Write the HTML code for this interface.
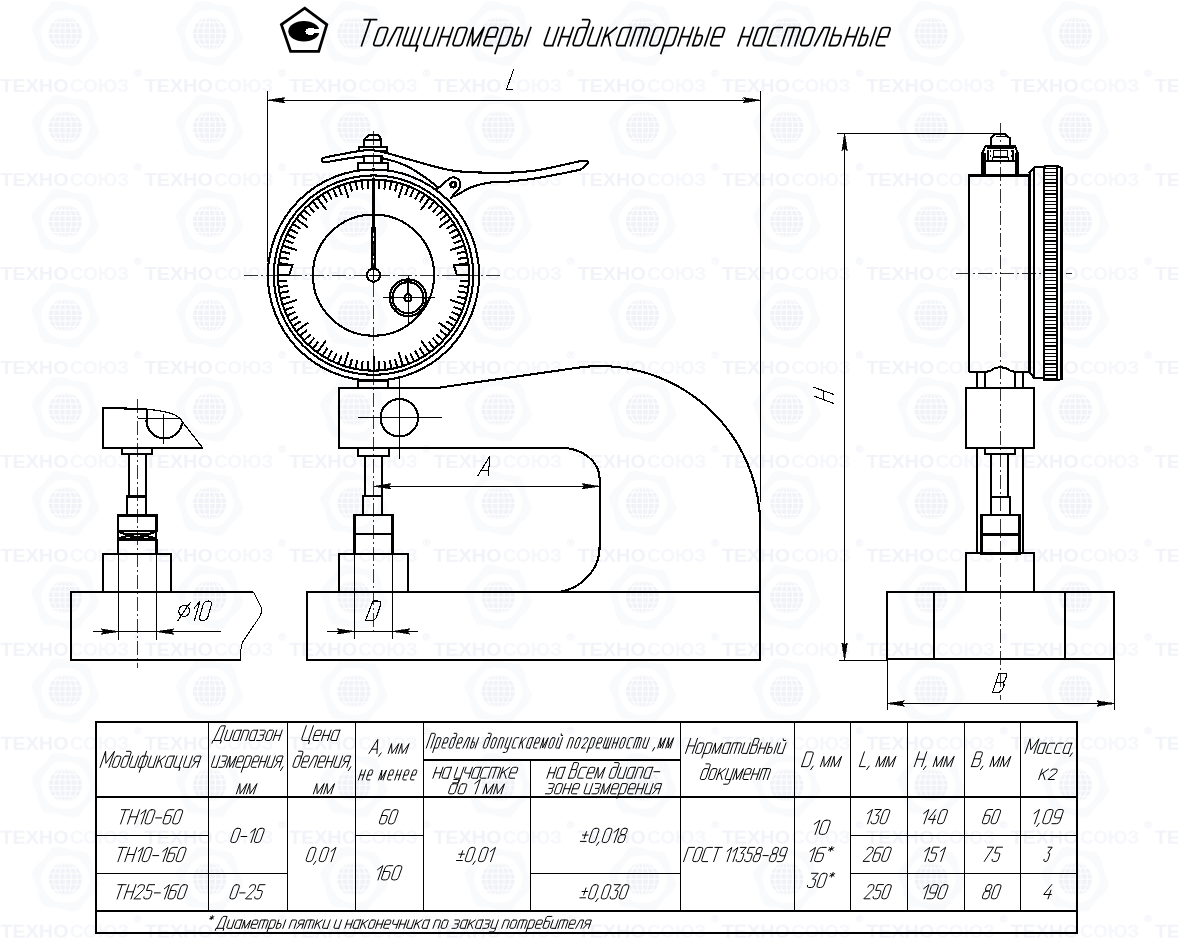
<!DOCTYPE html>
<html><head><meta charset="utf-8"><title>Толщиномеры индикаторные настольные</title>
<style>
html,body{margin:0;padding:0;background:#fff;}
body{width:1178px;height:940px;overflow:hidden;font-family:"Liberation Sans",sans-serif;}
svg{display:block;}
.k{fill:none;stroke:#000;stroke-width:2.1;stroke-linejoin:miter;}
.kk{fill:none;stroke:#000;stroke-width:2.6;}
.t{fill:none;stroke:#000;stroke-width:1;}
.c{fill:none;stroke:#000;stroke-width:0.8;stroke-dasharray:14 3 2 3;}
.lt{fill:none;stroke:#000;stroke-width:1.1;stroke-linecap:round;stroke-linejoin:round;}
.gt{fill:none;stroke:#000;stroke-width:1;stroke-linecap:square;stroke-linejoin:round;shape-rendering:geometricPrecision;}
.af{fill:#000;stroke:#000;stroke-width:0.6;}
.w{fill:#fff;stroke:#000;stroke-width:2.1;}
text{font-family:"Liberation Sans",sans-serif;font-style:italic;fill:#000;stroke:#fff;stroke-width:0.6px;paint-order:fill stroke;}
.wm text{font-style:normal;font-weight:bold;stroke:none;}
</style></head><body>
<svg width="1178" height="940" viewBox="0 0 1178 940">
<defs>
<g id="gl">
<path transform="rotate(10)" d="M-16 -28.5 L16 -30.5 Q26 -22 27 -8 Q20 -21 5 -23.5 Q-8 -25 -21 -16 Q-20 -23 -16 -28.5Z" fill="#f9fafc"/>
<path transform="rotate(70)" d="M-16 -28.5 L16 -30.5 Q26 -22 27 -8 Q20 -21 5 -23.5 Q-8 -25 -21 -16 Q-20 -23 -16 -28.5Z" fill="#f9fafc"/>
<path transform="rotate(130)" d="M-16 -28.5 L16 -30.5 Q26 -22 27 -8 Q20 -21 5 -23.5 Q-8 -25 -21 -16 Q-20 -23 -16 -28.5Z" fill="#f9fafc"/>
<path transform="rotate(190)" d="M-16 -28.5 L16 -30.5 Q26 -22 27 -8 Q20 -21 5 -23.5 Q-8 -25 -21 -16 Q-20 -23 -16 -28.5Z" fill="#f9fafc"/>
<path transform="rotate(250)" d="M-16 -28.5 L16 -30.5 Q26 -22 27 -8 Q20 -21 5 -23.5 Q-8 -25 -21 -16 Q-20 -23 -16 -28.5Z" fill="#f9fafc"/>
<path transform="rotate(310)" d="M-16 -28.5 L16 -30.5 Q26 -22 27 -8 Q20 -21 5 -23.5 Q-8 -25 -21 -16 Q-20 -23 -16 -28.5Z" fill="#f9fafc"/>
<circle r="16.6" fill="#f0f2f7"/>
<path d="M-17 -11H17" stroke="#fff" stroke-width="1.1" fill="none"/>
<path d="M-17 -5.5H17" stroke="#fff" stroke-width="1.1" fill="none"/>
<path d="M-17 0H17" stroke="#fff" stroke-width="1.1" fill="none"/>
<path d="M-17 5.5H17" stroke="#fff" stroke-width="1.1" fill="none"/>
<path d="M-17 11H17" stroke="#fff" stroke-width="1.1" fill="none"/>
<path d="M0 -17V17" stroke="#fff" stroke-width="1.1" fill="none"/>
<ellipse rx="6" ry="16.6" fill="none" stroke="#fff" stroke-width="1.1"/>
<ellipse rx="12" ry="16.6" fill="none" stroke="#fff" stroke-width="1.1"/>
</g>
<pattern id="wm" width="144.3" height="93.95" patternUnits="userSpaceOnUse" patternTransform="translate(0,-16.85)">
<g class="wm">
<text x="0.5" y="15.1" font-size="18.6" textLength="68" lengthAdjust="spacingAndGlyphs" style="fill:#f1f3f8">ТЕХНО</text>
<text x="70" y="15.1" font-size="18.6" textLength="59" lengthAdjust="spacingAndGlyphs" style="fill:#f6f7fb">СОЮЗ</text>
<circle cx="137.9" cy="-4.0" r="3.3" fill="none" stroke="#f0f2f8" stroke-width="0.9"/>
<circle cx="137.9" cy="89.95" r="3.3" fill="none" stroke="#f0f2f8" stroke-width="0.9"/>
<text x="136.2" y="-2.2" font-size="5" style="fill:#f0f2f8">R</text><text x="136.2" y="91.75" font-size="5" style="fill:#f0f2f8">R</text>
<use href="#gl" x="65.3" y="50.4"/>
</g></pattern></defs>
<rect width="1178" height="940" fill="#fff"/>
<rect width="1178" height="940" fill="url(#wm)"/>
<g style="filter:grayscale(1)" shape-rendering="crispEdges">
<path d="M304.7 8.2L326.8 24.6L318.7 51.4H290.6L281.4 24.6Z" fill="none" stroke="#000" stroke-width="2.8" stroke-linejoin="miter" shape-rendering="geometricPrecision"/>
<ellipse cx="303.9" cy="31.2" rx="15.6" ry="10.3" fill="#000" shape-rendering="geometricPrecision"/>
<path d="M305.5 31.5q0.5 -3.5 4.5 -3.5q3 -0.2 5 1.2l5 -0.4v4.6l-5 -0.3q-1.5 2 -5 1.6q-4 0.2 -4.5 -3.2z" fill="#fff"/>
<path class="gt" style="stroke-width:1.7" d="M364.4 19.7L376.5 19.7M370.5 19.7L361.5 45.7M381.7 27.5L386.1 27.5Q388.4 27.5 387.5 30.4L383.2 42.8Q382.2 45.7 379.8 45.7L375.4 45.7Q373.0 45.7 374.0 42.8L378.3 30.4Q379.3 27.5 381.7 27.5M387.6 45.7L397.2 27.5L403.0 27.5L396.8 45.7M408.5 27.5L403.2 42.8Q402.2 45.7 404.6 45.7L417.7 45.7L415.9 50.9M415.2 27.5L409.0 45.7M422.0 27.5L415.7 45.7M429.4 27.5L424.1 42.8Q423.1 45.7 425.5 45.7L432.2 45.7M438.5 27.5L432.2 45.7M444.0 27.5L437.7 45.7M453.1 27.5L446.8 45.7M440.8 36.6L450.0 36.6M460.9 27.5L465.3 27.5Q467.7 27.5 466.7 30.4L462.4 42.8Q461.4 45.7 459.0 45.7L454.7 45.7Q452.3 45.7 453.3 42.8L457.5 30.4Q458.5 27.5 460.9 27.5M466.9 45.7L473.1 27.5L472.3 45.7L484.0 27.5L477.7 45.7M486.2 36.9L495.4 36.9L497.6 30.4Q498.6 27.5 496.2 27.5L491.8 27.5Q489.4 27.5 488.5 30.4L484.2 42.8Q483.2 45.7 485.6 45.7L492.3 45.7M495.1 53.5L504.0 27.5L510.8 27.5Q513.2 27.5 512.2 30.4L507.9 42.8Q506.9 45.7 504.5 45.7L497.8 45.7M518.6 27.5L512.3 45.7L516.9 45.7Q519.3 45.7 520.3 42.8L522.0 37.9Q522.9 35.3 520.7 35.3L515.9 35.3M530.8 27.5L524.5 45.7"/>
<path class="gt" style="stroke-width:1.7" d="M549.8 27.5L544.5 42.8Q543.5 45.7 545.9 45.7L552.6 45.7M558.8 27.5L552.6 45.7M564.2 27.5L558.0 45.7M573.3 27.5L567.0 45.7M561.1 36.6L570.2 36.6M581.1 27.5L585.4 27.5Q587.8 27.5 586.8 30.4L582.5 42.8Q581.5 45.7 579.1 45.7L574.8 45.7Q572.4 45.7 573.4 42.8L577.7 30.4Q578.7 27.5 581.1 27.5M586.4 31.4L589.5 22.6Q590.5 19.7 588.1 19.7L582.7 19.7M593.2 27.5L587.9 42.8Q586.9 45.7 589.3 45.7L596.0 45.7M602.2 27.5L596.0 45.7M607.6 27.5L601.4 45.7M616.7 27.5L604.0 37.9M608.1 35.0L610.4 45.7M631.2 27.5L624.5 27.5Q622.1 27.5 621.1 30.4L616.8 42.8Q615.8 45.7 618.2 45.7L624.9 45.7M631.2 27.5L624.9 45.7M630.3 45.7L636.6 27.5L647.6 27.5Q649.9 27.5 649.0 30.4L643.7 45.7M643.3 27.5L637.0 45.7M657.7 27.5L662.0 27.5Q664.4 27.5 663.4 30.4L659.1 42.8Q658.1 45.7 655.8 45.7L651.5 45.7Q649.1 45.7 650.1 42.8L654.4 30.4Q655.3 27.5 657.7 27.5M660.9 53.5L669.8 27.5L676.5 27.5Q678.9 27.5 677.9 30.4L673.6 42.8Q672.6 45.7 670.2 45.7L663.5 45.7M684.3 27.5L678.0 45.7M693.3 27.5L687.1 45.7M681.1 36.6L690.2 36.6M698.7 27.5L692.5 45.7L697.0 45.7Q699.4 45.7 700.4 42.8L702.1 37.9Q703.0 35.3 700.8 35.3L696.1 35.3M710.8 27.5L704.6 45.7M713.0 36.9L722.1 36.9L724.3 30.4Q725.3 27.5 722.9 27.5L718.6 27.5Q716.2 27.5 715.2 30.4L710.9 42.8Q710.0 45.7 712.3 45.7L719.0 45.7"/>
<path class="gt" style="stroke-width:1.7" d="M744.3 27.5L738.0 45.7M753.3 27.5L747.1 45.7M741.1 36.6L750.2 36.6M767.8 27.5L761.1 27.5Q758.7 27.5 757.7 30.4L753.4 42.8Q752.5 45.7 754.8 45.7L761.5 45.7M767.8 27.5L761.5 45.7M782.2 27.5L775.6 27.5Q773.2 27.5 772.2 30.4L767.9 42.8Q766.9 45.7 769.3 45.7L776.0 45.7M781.4 45.7L787.6 27.5L798.7 27.5Q801.0 27.5 800.0 30.4L794.8 45.7M794.3 27.5L788.1 45.7M808.8 27.5L813.1 27.5Q815.5 27.5 814.5 30.4L810.2 42.8Q809.2 45.7 806.8 45.7L802.5 45.7Q800.2 45.7 801.1 42.8L805.4 30.4Q806.4 27.5 808.8 27.5M814.6 45.7L824.1 27.5L829.9 27.5L823.7 45.7M835.3 27.5L829.1 45.7L835.8 45.7Q838.1 45.7 839.1 42.8L840.8 37.9Q841.7 35.3 839.6 35.3L832.7 35.3M849.8 27.5L843.5 45.7M858.9 27.5L852.6 45.7M846.7 36.6L855.7 36.6M864.3 27.5L858.0 45.7L862.5 45.7Q864.9 45.7 865.9 42.8L867.6 37.9Q868.5 35.3 866.3 35.3L861.6 35.3M876.3 27.5L870.1 45.7M878.5 36.9L887.6 36.9L889.8 30.4Q890.8 27.5 888.4 27.5L884.1 27.5Q881.7 27.5 880.8 30.4L876.5 42.8Q875.5 45.7 877.8 45.7L884.5 45.7"/>
<path class="t" d="M267.4 91.0L267.4 262.0"/>
<path class="t" d="M760.3 91.0L760.3 502.0"/>
<path class="t" d="M267.4 100.2L760.3 100.2"/>
<path class="af" d="M267.4 100.2L284.9 97.5L282.4 100.2L284.9 102.9Z"/>
<path class="af" d="M760.3 100.2L742.8 102.9L745.3 100.2L742.8 97.5Z"/>
<path class="lt" d="M513.6 69.6L506.5 89.3H513"/>
<circle class="k" cx="373.5" cy="275.1" r="105.6"/>
<circle class="k" cx="373.5" cy="275.1" r="99.7"/>
<circle class="k" cx="373.5" cy="275.1" r="95.6"/>
<circle class="k" cx="373.5" cy="275.1" r="60.6"/>
<path d="M373.5 179.9L373.5 194.5M379.5 180.1L378.9 189.0M385.4 180.7L384.3 189.5M391.3 181.6L389.7 190.3M397.2 182.9L395.0 191.5M402.9 184.6L398.4 198.4M408.5 186.6L405.3 194.9M414.0 189.0L410.2 197.0M419.4 191.7L415.1 199.5M424.5 194.7L419.7 202.2M429.5 198.1L420.9 209.9M434.2 201.7L428.5 208.6M438.7 205.7L432.6 212.2M442.9 209.9L436.4 216.0M446.9 214.4L440.0 220.1M450.5 219.1L438.7 227.7M453.9 224.1L446.4 228.9M456.9 229.2L449.1 233.5M459.6 234.6L451.6 238.4M462.0 240.1L453.7 243.3M464.0 245.7L450.2 250.2M465.7 251.4L457.1 253.6M467.0 257.3L458.3 258.9M467.9 263.2L459.1 264.3M468.5 281.1L459.6 280.5M467.9 287.0L459.1 285.9M467.0 292.9L458.3 291.3M465.7 298.8L457.1 296.6M464.0 304.5L450.2 300.0M462.0 310.1L453.7 306.9M459.6 315.6L451.6 311.8M456.9 321.0L449.1 316.7M453.9 326.1L446.4 321.3M450.5 331.1L438.7 322.5M446.9 335.8L440.0 330.1M442.9 340.3L436.4 334.2M438.7 344.5L432.6 338.0M434.2 348.5L428.5 341.6M429.5 352.1L420.9 340.3M424.5 355.5L419.7 348.0M419.4 358.5L415.1 350.7M414.0 361.2L410.2 353.2M408.5 363.6L405.3 355.3M402.9 365.6L398.4 351.8M397.2 367.3L395.0 358.7M391.3 368.6L389.7 359.9M385.4 369.5L384.3 360.7M379.5 370.1L378.9 361.2M373.5 370.3L373.5 355.7M367.5 370.1L368.1 361.2M361.6 369.5L362.7 360.7M355.7 368.6L357.3 359.9M349.8 367.3L352.0 358.7M344.1 365.6L348.6 351.8M338.5 363.6L341.7 355.3M333.0 361.2L336.8 353.2M327.6 358.5L331.9 350.7M322.5 355.5L327.3 348.0M317.5 352.1L326.1 340.3M312.8 348.5L318.5 341.6M308.3 344.5L314.4 338.0M304.1 340.3L310.6 334.2M300.1 335.8L307.0 330.1M296.5 331.1L308.3 322.5M293.1 326.1L300.6 321.3M290.1 321.0L297.9 316.7M287.4 315.6L295.4 311.8M285.0 310.1L293.3 306.9M283.0 304.5L296.8 300.0M281.3 298.8L289.9 296.6M280.0 292.9L288.7 291.3M279.1 287.0L287.9 285.9M278.5 281.1L287.4 280.5M279.1 263.2L287.9 264.3M280.0 257.3L288.7 258.9M281.3 251.4L289.9 253.6M283.0 245.7L296.8 250.2M285.0 240.1L293.3 243.3M287.4 234.6L295.4 238.4M290.1 229.2L297.9 233.5M293.1 224.1L300.6 228.9M296.5 219.1L308.3 227.7M300.1 214.4L307.0 220.1M304.1 209.9L310.6 216.0M308.3 205.7L314.4 212.2M312.8 201.7L318.5 208.6M317.5 198.1L326.1 209.9M322.5 194.7L327.3 202.2M327.6 191.7L331.9 199.5M333.0 189.0L336.8 197.0M338.5 186.6L341.7 194.9M344.1 184.6L348.6 198.4M349.8 182.9L352.0 191.5M355.7 181.6L357.3 190.3M361.6 180.7L362.7 189.5M367.5 180.1L368.1 189.0" fill="none" stroke="#000" stroke-width="2"/>
<path class="k" d="M278.0 264.6H292.6L289.1 275.1H278.0"/>
<path class="k" d="M469.0 264.6H453.7L456.9 275.1H469.0"/>
<path d="M373.5 268.1V180" stroke="#000" stroke-width="2.2" fill="none"/>
<path d="M373.5 268.1V227" stroke="#000" stroke-width="4.8" fill="none"/>
<path d="M373.5 265.1V230" stroke="#fff" stroke-width="1.1" stroke-dasharray="9 3" fill="none"/>
<circle class="w" cx="373.5" cy="275.1" r="6.6"/>
<path class="t" d="M368.5 275.1H378.5M373.5 270.1V280.1"/>
<circle cx="408" cy="297.7" r="18.3" fill="none" stroke="#000" stroke-width="2.2"/>
<circle cx="408" cy="297.7" r="15.5" fill="none" stroke="#000" stroke-width="2.2"/>
<circle class="k" cx="408" cy="297.7" r="3.6"/>
<path class="t" d="M383 297.7H435M408 275.7V323.7"/>
<path d="M408 294.7V278.7" stroke="#000" stroke-width="2.2" fill="none"/>
<path class="w" d="M363.9 147.3V139.6L369 134.6H378.3L381.4 139.6V147.3Z"/>
<path class="k" d="M363.9 139.6H381.4"/>
<path class="w" d="M358.8 147.3H387.2V150.6H358.8Z"/>
<path class="w" d="M321.8 158.8C322.5 158.5 322.1 158.1 326.0 157.2C329.9 156.3 339.2 154.7 345.0 153.6C350.8 152.5 356.3 151.4 361.0 150.8C365.7 150.2 368.8 149.9 373.0 150.3C377.2 150.7 380.2 151.4 386.4 153.0C392.6 154.6 401.5 157.3 410.0 159.7C418.5 162.1 429.6 165.4 437.3 167.3C445.0 169.2 449.6 170.2 456.0 171.0C462.4 171.8 468.2 172.1 475.5 172.4C482.8 172.7 492.8 172.7 500.0 172.7C507.2 172.7 511.9 172.7 518.7 172.2C525.5 171.7 533.1 171.0 540.7 169.7C548.3 168.4 557.7 166.1 564.5 164.6C571.3 163.1 578.7 161.4 581.5 160.8L587.4 160.8L588.3 163.3L580.6 169.7C577.1 170.4 567.2 172.5 559.4 174.0C551.6 175.5 542.5 177.3 534.0 178.6C525.5 179.9 515.8 180.9 508.5 181.6C501.2 182.3 496.1 181.7 490.0 182.6C483.9 183.5 477.9 184.7 472.0 187.0C466.1 189.3 457.6 194.7 454.7 196.2L437.6 187.2C435.7 185.7 430.6 181.2 426.0 178.0C421.4 174.8 414.7 170.4 410.0 167.8C405.3 165.2 401.9 163.9 398.0 162.5C394.1 161.1 390.7 160.4 386.4 159.3C382.1 158.2 376.7 156.6 372.0 156.2C367.3 155.8 363.7 156.4 358.4 157.0C353.1 157.6 345.6 158.8 340.0 159.7C334.4 160.6 328.0 162.1 325.0 162.3C322.0 162.6 322.5 161.8 322.0 161.2C321.5 160.6 321.8 159.2 321.8 158.8Z"/>
<path class="w" d="M363.9 156.4H381.5V162.7H363.9Z"/>
<path class="w" d="M357.9 162.7H388.2V169.7H357.9Z"/>
<path class="w" d="M436.9 189.4L448 179.6A6.6 6.6 0 0 1 458.6 189.2L450.3 198.6"/>
<circle cx="453.2" cy="184.7" r="2.6" fill="#fff" stroke="#000" stroke-width="2.6"/>
<circle class="k" cx="373.5" cy="275.1" r="105.6"/>
<path class="k" d="M338.8 387.6H439.5L575.5 368A160.3 160.3 0 0 1 760.3 526.4V660H307V592.3H551.9A47.7 46 0 0 0 599.6 545.5V478.5A38.8 30.7 0 0 0 560.8 447.8H338.8Z"/>
<path class="k" d="M551.9 592.3L760.3 592.3"/>
<path class="k" d="M358.1 380.5H388.2V387.8H358.1Z"/>
<circle class="k" cx="399.3" cy="417.8" r="18.7"/>
<path class="t" d="M357.5 417.8H441.5M399.3 376V459"/>
<path class="k" d="M357.8 447.8H389.0V456.0H357.8Z"/>
<path class="k" d="M364.6 456V496H362.6V514.8M381.6 456V496H382.3V514.8M362.6 496H382.3"/>
<path class="kk" d="M354.4 514.8H392.5V554.0H354.4Z"/>
<path class="kk" d="M354.4 534.0L392.5 534.0"/>
<path class="k" d="M339 592.3V554H408V592.3"/>
<path class="t" d="M373.6 486.3L599.5 486.3"/>
<path class="af" d="M373.6 486.3L391.1 483.6L388.6 486.3L391.1 489.0Z"/>
<path class="af" d="M599.5 486.3L582.0 489.0L584.5 486.3L582.0 483.6Z"/>
<path class="lt" d="M477.8 475.7L489.9 456.2L488.2 475.7M481.2 470.9H488.6"/>
<path class="t" d="M354.4 554V638.8M392.4 554V638.8M327 631.4H418"/>
<path class="af" d="M354.4 631.4L336.9 634.1L339.4 631.4L336.9 628.7Z"/>
<path class="af" d="M392.4 631.4L409.9 628.7L407.4 631.4L409.9 634.1Z"/>
<path class="lt" d="M365.5 620.6L372.9 601H377.6Q381.5 601 380.6 605L376.6 616.5Q375.2 620.6 371.5 620.6Z"/>
<path class="c" d="M244 275.1H501.6"/>
<path class="c" d="M373.5 131V267.1M373.5 283.1V631.4"/>
<path class="k" d="M147.4 409.3L103 407.7V447.8H202.6"/>
<path d="M147.4 409.3Q166 411 176.1 415.4Q181 418.5 183.8 423.7L202.6 447.8" fill="none" stroke="#000" stroke-width="1.2"/>
<path class="k" d="M146.6 409.5V418.3A17.5 17.5 0 0 0 182.2 422.6"/>
<path class="t" d="M137.5 418.2H178.5M163.6 413.8V443.6"/>
<path class="k" d="M121.8 448.0H152.2V454.0H121.8Z"/>
<path class="k" d="M129.2 454V496.5H127.3V515.7M145.8 454V496.5H146.4V515.7M127.3 496.5H146.4"/>
<path class="kk" d="M117.9 515.7H156.2V531.0H117.9Z"/>
<path class="k" d="M118 532L130 535.3L118 538.3M156 532L144 535.3L156 538.3M126 534.4H148M130 536.8H144M117.9 531V539.2M156.2 531V539.2"/>
<path class="kk" d="M117.9 539.2V553.7M156.2 539.2V553.7M117.9 539.2H156.2"/>
<path class="k" d="M103 591.7V553.7H171.2V591.7"/>
<path class="k" d="M253.4 591.7H70.8V660.3H240.5"/>
<path class="t" d="M253.4 591.7L261 607Q262.5 612 259.5 617L243 641.5Q240 648 240.5 660.3"/>
<path class="t" d="M118.6 553.4V640M156.3 553.4V640M93 631.6H220.7"/>
<path class="af" d="M118.6 631.6L101.1 634.3L103.6 631.6L101.1 628.9Z"/>
<path class="af" d="M156.3 631.6L173.8 628.9L171.3 631.6L173.8 634.3Z"/>
<ellipse class="lt" cx="184.1" cy="611" rx="5.3" ry="5.6" transform="rotate(20 184.1 611)"/>
<path class="lt" d="M178 620.4L190.1 602.7"/>
<path class="lt" d="M194 608.3L199.9 601.5L194.4 620.6"/>
<rect class="lt" x="0" y="-19.6" width="8.2" height="19.6" rx="3.8" ry="4" transform="translate(198.6,620.6) skewX(-16)"/>
<path class="t" d="M837 133.3H995M839 660H887M844.6 133.3V660"/>
<path class="af" d="M844.6 133.3L847.3 150.8L844.6 148.3L841.9 150.8Z"/>
<path class="af" d="M844.6 660.0L841.9 642.5L844.6 645.0L847.3 642.5Z"/>
<path class="lt" d="M814 387.3L833.9 394.5M814 396.1L833.9 403.5M823.6 390.7V399.6"/>
<path class="w" d="M990.6 146V138.3L995.1 133.8H1004.8L1009.9 138.3V146Z"/>
<path class="t" d="M995.5 136.8H1005.5"/>
<path class="w" d="M982.4 175.5V152.6L985.5 146H1015L1017.6 152.6V175.5Z"/>
<path d="M983.9 153V175.5M1016.1 153V175.5" stroke="#000" stroke-width="3.2" fill="none"/>
<path class="k" d="M985.5 161.3H1015M987 147.8H1013.5"/>
<path class="t" d="M993.6 150H1007.4V156.2H993.6ZM992 157.7H1008.4V160.9H992ZM990 150V152M990 154.5V156.5M1011 150V152M1011 154.5V156.5"/>
<path d="M988.2 149.5V161M1012.8 149.5V161" stroke="#000" stroke-width="2.4" fill="none"/>
<path class="k" d="M968.8 371.6V175.5H1029V371.6"/>
<path class="k" d="M968.8 371.6H987Q991 371.3 994 368.6Q996 367.3 1000.4 367.3Q1005 367.3 1007 368.6Q1010 371.3 1013.8 371.6H1029"/>
<path class="k" d="M1029 173.2L1034.4 167.4H1045V166.3H1057.8L1061.5 168V379L1058.2 380.2H1044V378H1034.2L1029 371.6"/>
<path class="k" d="M1030.4 172V373.5M1034.4 167.4V378M1044.2 166.3V380.2M1057 166.3V380.2"/>
<path d="M1045 168.60H1056.5M1045 172.22H1056.5M1045 175.84H1056.5M1045 179.46H1056.5M1045 183.08H1056.5M1045 186.70H1056.5M1045 190.32H1056.5M1045 193.94H1056.5M1045 197.56H1056.5M1045 201.18H1056.5M1045 204.80H1056.5M1045 208.42H1056.5M1045 212.04H1056.5M1045 215.66H1056.5M1045 219.28H1056.5M1045 222.90H1056.5M1045 226.52H1056.5M1045 230.14H1056.5M1045 233.76H1056.5M1045 237.38H1056.5M1045 241.00H1056.5M1045 244.62H1056.5M1045 248.24H1056.5M1045 251.86H1056.5M1045 255.48H1056.5M1045 259.10H1056.5M1045 262.72H1056.5M1045 266.34H1056.5M1045 269.96H1056.5M1045 273.58H1056.5M1045 277.20H1056.5M1045 280.82H1056.5M1045 284.44H1056.5M1045 288.06H1056.5M1045 291.68H1056.5M1045 295.30H1056.5M1045 298.92H1056.5M1045 302.54H1056.5M1045 306.16H1056.5M1045 309.78H1056.5M1045 313.40H1056.5M1045 317.02H1056.5M1045 320.64H1056.5M1045 324.26H1056.5M1045 327.88H1056.5M1045 331.50H1056.5M1045 335.12H1056.5M1045 338.74H1056.5M1045 342.36H1056.5M1045 345.98H1056.5M1045 349.60H1056.5M1045 353.22H1056.5M1045 356.84H1056.5M1045 360.46H1056.5M1045 364.08H1056.5M1045 367.70H1056.5M1045 371.32H1056.5M1045 374.94H1056.5M1045 378.56H1056.5" stroke="#000" stroke-width="1.3" fill="none"/>
<path class="k" d="M976.8 371.6V387.9M985.1 371.6V387.9M1015.3 371.6V387.9M1023.4 371.6V387.9"/>
<path class="k" d="M966.0 387.9H1034.2V448.2H966.0Z"/>
<path class="k" d="M984.8 448.2H1015.0V453.6H984.8Z"/>
<path class="k" d="M976.9 448.2V553.2M1023.2 448.2V553.2"/>
<path class="k" d="M991.2 453.6V514.9M1007.9 453.6V497H1009.6V514.9M991.2 497H1009.6"/>
<path class="kk" d="M981.2 514.9H1019.5V553.2H981.2Z"/>
<path class="kk" d="M981.2 534.5L1019.5 534.5"/>
<path class="k" d="M965.8 591.2V553.2H1034.3V591.2"/>
<path class="k" d="M887.0 591.6H1114.0V659.4H887.0Z"/>
<path class="k" d="M933.7 591.6V659.4M1065 591.6V659.4"/>
<path class="t" d="M887 659.4V710M1114 659.4V710M887 703.5H1114"/>
<path class="af" d="M887.0 703.5L904.5 700.8L902.0 703.5L904.5 706.2Z"/>
<path class="af" d="M1114.0 703.5L1096.5 706.2L1099.0 703.5L1096.5 700.8Z"/>
<path class="lt" d="M992.6 692.3L999 673.3H1004.5Q1007.3 673.3 1006.6 676L1005 680Q1004.3 682 1002.2 682.3H996.1M1002.2 682.3Q1004.6 683 1004 685.8L1002.2 689.5Q1001 692.3 998 692.3H992.6"/>
<path class="c" d="M137.2 399V668"/>
<path class="c" d="M1000.4 123V700"/>
<path class="c" d="M956 273.6H1072"/>
<path d="M96.35 721.8H1077V932.6H96.35Z" fill="none" stroke="#000" stroke-width="2.2"/>
<path d="M96.35 796.7H1077M96.35 910.8H1077" fill="none" stroke="#000" stroke-width="2"/>
<path d="M208.5 721.8V910.8M287.4 721.8V910.8M355.5 721.8V910.8M423.5 721.8V910.8M680.4 721.8V910.8M794.3 721.8V910.8M850.4 721.8V910.8M907.5 721.8V910.8M964.7 721.8V910.8M1020.5 721.8V910.8M530.5 760V910.8M423.5 760H680.4M96.35 835.3H208.5M96.35 873.5H287.4M355.5 835.3H423.5M530.5 873.5H680.4M850.4 835.3H1077M850.4 873.5H1077" fill="none" stroke="#000" stroke-width="1.4"/>
<path class="gt" d="M100.1 767.3L105.6 751.3L105.9 763.3L114.5 751.3L108.9 767.3M117.1 756.1L119.8 756.1Q121.4 756.1 120.8 757.9L118.1 765.5Q117.5 767.3 116.0 767.3L113.2 767.3Q111.7 767.3 112.3 765.5L115.0 757.9Q115.6 756.1 117.1 756.1M125.7 756.1L128.4 756.1Q129.9 756.1 129.3 757.9L126.7 765.5Q126.1 767.3 124.6 767.3L121.8 767.3Q120.3 767.3 120.9 765.5L123.5 757.9Q124.1 756.1 125.7 756.1M129.1 758.5L131.0 753.1Q131.6 751.3 130.1 751.3L126.6 751.3M132.7 756.1L129.4 765.5Q128.8 767.3 130.4 767.3L134.6 767.3M138.5 756.1L134.6 767.3M142.8 756.1L146.9 756.1Q148.5 756.1 147.8 757.9L145.2 765.5Q144.6 767.3 143.1 767.3L138.9 767.3Q137.4 767.3 138.0 765.5L140.7 757.9Q141.3 756.1 142.8 756.1M146.5 751.3L139.3 772.1M151.2 756.1L148.0 765.5Q147.4 767.3 148.9 767.3L153.2 767.3M157.0 756.1L153.2 767.3M159.8 756.1L155.9 767.3M165.6 756.1L157.6 762.5M160.1 760.7L161.7 767.3M174.2 756.1L169.9 756.1Q168.4 756.1 167.7 757.9L165.1 765.5Q164.5 767.3 166.0 767.3L170.3 767.3M174.2 756.1L170.3 767.3M176.9 756.1L173.7 765.5Q173.1 767.3 174.6 767.3L180.1 767.3L179.0 770.5M182.7 756.1L178.9 767.3M186.7 756.1L183.5 765.5Q182.9 767.3 184.4 767.3L188.7 767.3M192.5 756.1L188.7 767.3M197.2 767.3L201.1 756.1L196.8 756.1Q195.3 756.1 194.7 757.9L193.9 760.1Q193.4 761.7 194.7 761.7L199.2 761.7M196.1 761.7L191.4 767.3"/>
<path class="gt" d="M212.0 743.1L212.9 740.5L221.4 740.5L220.4 743.1M213.8 740.5L219.9 727.6Q220.7 725.8 222.2 725.8L225.4 725.8L220.3 740.5M227.5 730.2L224.6 738.9Q224.0 740.5 225.5 740.5L229.5 740.5M233.1 730.2L229.5 740.5M241.3 730.2L237.2 730.2Q235.7 730.2 235.2 731.8L232.7 738.9Q232.2 740.5 233.6 740.5L237.7 740.5M241.3 730.2L237.7 740.5M240.4 740.5L243.9 730.2L248.0 730.2Q249.5 730.2 248.9 731.8L245.9 740.5M257.6 730.2L253.6 730.2Q252.1 730.2 251.5 731.8L249.1 738.9Q248.6 740.5 250.0 740.5L254.1 740.5M257.6 730.2L254.1 740.5M260.3 730.2L264.4 730.2Q265.8 730.2 265.3 731.8L264.6 733.7Q264.2 735.1 263.0 735.1L260.2 735.1M263.0 735.1Q264.2 735.1 263.7 736.4L262.8 738.9Q262.3 740.5 260.8 740.5L256.7 740.5M269.9 730.2L272.6 730.2Q274.0 730.2 273.5 731.8L271.0 738.9Q270.5 740.5 269.0 740.5L266.4 740.5Q264.9 740.5 265.5 738.9L267.9 731.8Q268.5 730.2 269.9 730.2M276.7 730.2L273.1 740.5M282.2 730.2L278.7 740.5M274.9 735.4L280.4 735.4"/>
<path class="gt" d="M214.8 756.0L211.5 765.5Q210.9 767.3 212.3 767.3L216.2 767.3M220.0 756.0L216.2 767.3M222.5 756.0L226.4 756.0Q227.8 756.0 227.2 757.8L226.5 759.9Q226.0 761.3 224.8 761.3L222.2 761.3M224.8 761.3Q226.0 761.3 225.5 762.8L224.5 765.5Q223.9 767.3 222.5 767.3L218.7 767.3M226.4 767.3L230.3 756.0L229.5 767.3L236.6 756.0L232.7 767.3M237.1 761.8L242.3 761.8L243.7 757.8Q244.3 756.0 242.9 756.0L240.4 756.0Q239.1 756.0 238.5 757.8L235.8 765.5Q235.2 767.3 236.5 767.3L240.4 767.3M241.3 772.1L246.8 756.0L250.7 756.0Q252.1 756.0 251.5 757.8L248.8 765.5Q248.2 767.3 246.8 767.3L242.9 767.3M252.6 761.8L257.8 761.8L259.2 757.8Q259.8 756.0 258.5 756.0L256.0 756.0Q254.6 756.0 254.0 757.8L251.3 765.5Q250.7 767.3 252.1 767.3L255.9 767.3M262.3 756.0L258.4 767.3M267.6 756.0L263.7 767.3M260.4 761.6L265.6 761.6M270.1 756.0L266.8 765.5Q266.2 767.3 267.6 767.3L271.5 767.3M275.3 756.0L271.5 767.3M279.2 767.3L283.1 756.0L279.2 756.0Q277.8 756.0 277.2 757.8L276.5 760.0Q275.9 761.6 277.2 761.6L281.2 761.6M278.4 761.6L274.0 767.3M282.9 766.8L280.6 770.5"/>
<path class="gt" d="M236.4 793.8L239.9 783.6L240.0 793.8L247.0 783.6L243.5 793.8M246.4 793.8L249.9 783.6L249.9 793.8L257.0 783.6L253.5 793.8"/>
<path class="gt" d="M306.3 725.8L301.9 738.4Q301.2 740.5 303.2 740.5L309.7 740.5L308.7 743.4M313.4 725.8L308.4 740.5M314.3 735.5L320.3 735.5L321.5 731.8Q322.1 730.2 320.5 730.2L317.7 730.2Q316.1 730.2 315.5 731.8L313.1 738.9Q312.5 740.5 314.1 740.5L318.6 740.5M325.0 730.2L321.4 740.5M331.0 730.2L327.5 740.5M323.2 735.4L329.2 735.4M339.9 730.2L335.5 730.2Q333.9 730.2 333.3 731.8L330.9 738.9Q330.3 740.5 331.9 740.5L336.4 740.5M339.9 730.2L336.4 740.5"/>
<path class="gt" d="M297.7 756.0L300.4 756.0Q301.8 756.0 301.2 757.8L298.5 765.5Q297.9 767.3 296.5 767.3L293.8 767.3Q292.4 767.3 293.0 765.5L295.7 757.8Q296.3 756.0 297.7 756.0M301.0 758.4L302.9 752.9Q303.5 751.2 302.0 751.2L298.7 751.2M302.5 761.8L308.0 761.8L309.4 757.8Q310.0 756.0 308.5 756.0L305.9 756.0Q304.5 756.0 303.8 757.8L301.2 765.5Q300.6 767.3 302.0 767.3L306.1 767.3M308.7 767.3L314.6 756.0L318.1 756.0L314.3 767.3M318.8 761.8L324.3 761.8L325.7 757.8Q326.3 756.0 324.9 756.0L322.2 756.0Q320.8 756.0 320.2 757.8L317.5 765.5Q316.9 767.3 318.3 767.3L322.4 767.3M328.9 756.0L325.1 767.3M334.5 756.0L330.6 767.3M327.0 761.6L332.5 761.6M337.1 756.0L333.8 765.5Q333.2 767.3 334.7 767.3L338.7 767.3M342.6 756.0L338.7 767.3M346.9 767.3L350.8 756.0L346.7 756.0Q345.3 756.0 344.7 757.8L343.9 760.0Q343.3 761.6 344.6 761.6L348.9 761.6M346.0 761.6L341.4 767.3M350.8 766.8L348.4 770.5"/>
<path class="gt" d="M313.4 793.8L316.9 783.6L317.1 793.8L324.2 783.6L320.7 793.8M323.7 793.8L327.2 783.6L327.3 793.8L334.5 783.6L331.0 793.8"/>
<path class="gt" d="M369.0 753.4L377.8 739.4L376.9 753.4M371.8 749.2L377.0 749.2M381.1 753.0L378.8 756.2M388.2 753.4L391.6 743.6L391.9 753.4L398.9 743.6L395.5 753.4M398.4 753.4L401.8 743.6L402.1 753.4L409.1 743.6L405.7 753.4"/>
<path class="gt" d="M361.8 770.0L358.4 779.9M365.6 770.0L362.2 779.9M360.1 774.9L363.9 774.9M367.7 775.1L371.5 775.1L372.7 771.6Q373.2 770.0 372.3 770.0L370.5 770.0Q369.5 770.0 369.0 771.6L366.6 778.3Q366.1 779.9 367.1 779.9L369.8 779.9M378.6 779.9L382.0 770.0L380.8 779.9L386.5 770.0L383.1 779.9M388.6 775.1L392.4 775.1L393.6 771.6Q394.2 770.0 393.2 770.0L391.4 770.0Q390.4 770.0 389.9 771.6L387.5 778.3Q387.0 779.9 388.0 779.9L390.7 779.9M398.1 770.0L394.7 779.9M401.8 770.0L398.4 779.9M396.4 774.9L400.1 774.9M404.0 775.1L407.8 775.1L409.0 771.6Q409.5 770.0 408.5 770.0L406.7 770.0Q405.8 770.0 405.2 771.6L402.9 778.3Q402.4 779.9 403.3 779.9L406.1 779.9M411.7 775.1L415.4 775.1L416.7 771.6Q417.2 770.0 416.2 770.0L414.4 770.0Q413.4 770.0 412.9 771.6L410.6 778.3Q410.0 779.9 411.0 779.9L413.8 779.9"/>
<path class="gt" d="M426.3 748.0L431.4 733.3L434.6 733.3Q435.8 733.3 435.1 735.4L430.8 748.0M432.7 752.4L437.7 737.7L440.5 737.7Q441.5 737.7 440.9 739.3L438.5 746.4Q438.0 748.0 437.0 748.0L434.2 748.0M443.1 743.0L446.9 743.0L448.1 739.3Q448.7 737.7 447.7 737.7L445.9 737.7Q444.9 737.7 444.4 739.3L441.9 746.4Q441.4 748.0 442.4 748.0L445.1 748.0M453.1 737.7L454.9 737.7Q455.9 737.7 455.3 739.3L452.9 746.4Q452.3 748.0 451.3 748.0L449.5 748.0Q448.6 748.0 449.1 746.4L451.5 739.3Q452.1 737.7 453.1 737.7M455.1 739.9L456.8 734.9Q457.4 733.3 456.4 733.3L454.2 733.3M457.4 743.0L461.2 743.0L462.5 739.3Q463.0 737.7 462.1 737.7L460.3 737.7Q459.3 737.7 458.7 739.3L456.3 746.4Q455.7 748.0 456.7 748.0L459.5 748.0M462.9 748.0L467.8 737.7L470.2 737.7L466.7 748.0M473.6 737.7L470.1 748.0L472.0 748.0Q473.0 748.0 473.5 746.4L474.5 743.6Q475.0 742.1 474.1 742.1L472.1 742.1M478.7 737.7L475.1 748.0M487.4 737.7L489.1 737.7Q490.1 737.7 489.6 739.3L487.1 746.4Q486.6 748.0 485.6 748.0L483.8 748.0Q482.8 748.0 483.4 746.4L485.8 739.3Q486.4 737.7 487.4 737.7M489.4 739.9L491.1 734.9Q491.7 733.3 490.7 733.3L488.4 733.3M494.5 737.7L496.3 737.7Q497.3 737.7 496.8 739.3L494.3 746.4Q493.8 748.0 492.8 748.0L491.0 748.0Q490.0 748.0 490.6 746.4L493.0 739.3Q493.5 737.7 494.5 737.7M497.2 748.0L500.7 737.7L503.5 737.7Q504.5 737.7 503.9 739.3L500.9 748.0M507.9 737.7L504.9 746.4Q504.4 748.0 505.3 748.0L508.1 748.0M511.7 737.7L507.2 750.8Q506.6 752.4 505.6 752.4L503.2 752.4M518.8 737.7L516.1 737.7Q515.1 737.7 514.5 739.3L512.1 746.4Q511.5 748.0 512.5 748.0L515.3 748.0M522.3 737.7L518.7 748.0M526.0 737.7L520.2 743.6M522.0 742.0L522.5 748.0M533.2 737.7L530.4 737.7Q529.4 737.7 528.9 739.3L526.4 746.4Q525.9 748.0 526.9 748.0L529.7 748.0M533.2 737.7L529.7 748.0M534.8 743.0L538.6 743.0L539.8 739.3Q540.4 737.7 539.4 737.7L537.6 737.7Q536.6 737.7 536.1 739.3L533.6 746.4Q533.1 748.0 534.1 748.0L536.8 748.0M540.2 748.0L543.8 737.7L542.5 748.0L548.3 737.7L544.7 748.0M552.7 737.7L554.5 737.7Q555.5 737.7 554.9 739.3L552.5 746.4Q551.9 748.0 550.9 748.0L549.1 748.0Q548.1 748.0 548.7 746.4L551.1 739.3Q551.7 737.7 552.7 737.7M558.9 737.7L555.9 746.4Q555.3 748.0 556.3 748.0L559.1 748.0M562.6 737.7L559.1 748.0M561.3 733.9L561.1 735.4L562.5 735.4M566.8 748.0L570.3 737.7L573.1 737.7Q574.1 737.7 573.6 739.3L570.6 748.0M578.5 737.7L580.3 737.7Q581.3 737.7 580.7 739.3L578.3 746.4Q577.7 748.0 576.8 748.0L575.0 748.0Q574.0 748.0 574.5 746.4L577.0 739.3Q577.5 737.7 578.5 737.7M584.1 739.3Q584.7 737.7 585.7 737.7L587.5 737.7Q588.5 737.7 587.9 739.3L587.3 741.2L581.2 748.0L584.9 748.0M586.8 752.4L591.9 737.7L594.7 737.7Q595.6 737.7 595.1 739.3L592.7 746.4Q592.1 748.0 591.1 748.0L588.3 748.0M597.2 743.0L601.0 743.0L602.3 739.3Q602.8 737.7 601.8 737.7L600.0 737.7Q599.1 737.7 598.5 739.3L596.1 746.4Q595.5 748.0 596.5 748.0L599.3 748.0M606.2 737.7L603.2 746.4Q602.7 748.0 603.7 748.0L608.3 748.0M609.0 737.7L605.5 748.0M611.8 737.7L608.3 748.0M615.2 737.7L611.7 748.0M619.0 737.7L615.4 748.0M613.4 742.9L617.2 742.9M623.4 737.7L625.2 737.7Q626.1 737.7 625.6 739.3L623.2 746.4Q622.6 748.0 621.6 748.0L619.8 748.0Q618.8 748.0 619.4 746.4L621.8 739.3Q622.4 737.7 623.4 737.7M633.3 737.7L630.5 737.7Q629.6 737.7 629.0 739.3L626.6 746.4Q626.0 748.0 627.0 748.0L629.8 748.0M633.2 748.0L636.7 737.7L641.3 737.7Q642.3 737.7 641.7 739.3L638.8 748.0M639.5 737.7L636.0 748.0M645.7 737.7L642.7 746.4Q642.2 748.0 643.2 748.0L645.9 748.0M649.5 737.7L645.9 748.0M654.5 747.6L652.6 750.9M657.8 748.0L661.3 737.7L660.0 748.0L665.8 737.7L662.3 748.0M665.7 748.0L669.2 737.7L667.9 748.0L673.7 737.7L670.2 748.0"/>
<path class="gt" d="M436.7 767.3L432.9 778.2M443.0 767.3L439.2 778.2M434.8 772.8L441.1 772.8M451.5 767.3L446.9 767.3Q445.2 767.3 444.6 769.0L442.1 776.5Q441.5 778.2 443.1 778.2L447.8 778.2M451.5 767.3L447.8 778.2M457.6 767.3L454.4 776.5Q453.8 778.2 455.5 778.2L460.1 778.2M463.9 767.3L459.1 781.2Q458.5 782.9 456.9 782.9L452.8 782.9M466.1 767.3L464.7 771.3Q464.1 773.1 465.8 773.1L470.5 773.1M472.4 767.3L468.7 778.2M481.0 767.3L476.3 767.3Q474.7 767.3 474.1 769.0L471.5 776.5Q470.9 778.2 472.6 778.2L477.3 778.2M481.0 767.3L477.3 778.2M489.6 767.3L484.9 767.3Q483.3 767.3 482.7 769.0L480.1 776.5Q479.5 778.2 481.2 778.2L485.8 778.2M488.1 778.2L491.8 767.3L499.5 767.3Q501.2 767.3 500.6 769.0L497.4 778.2M496.5 767.3L492.7 778.2M503.4 767.3L499.7 778.2M509.7 767.3L501.3 773.5M504.0 771.8L506.0 778.2M510.1 772.9L516.4 772.9L517.7 769.0Q518.3 767.3 516.6 767.3L513.6 767.3Q512.0 767.3 511.4 769.0L508.8 776.5Q508.2 778.2 509.9 778.2L514.5 778.2"/>
<path class="gt" d="M453.2 783.8L456.2 783.8Q457.9 783.8 457.4 785.4L455.0 792.2Q454.5 793.8 452.8 793.8L449.8 793.8Q448.1 793.8 448.6 792.2L451.0 785.4Q451.5 783.8 453.2 783.8M457.2 785.9L458.8 781.1Q459.4 779.5 457.7 779.5L453.9 779.5M462.6 783.8L465.6 783.8Q467.3 783.8 466.7 785.4L464.4 792.2Q463.8 793.8 462.2 793.8L459.1 793.8Q457.5 793.8 458.0 792.2L460.4 785.4Q460.9 783.8 462.6 783.8M474.9 783.5L480.3 779.5L475.3 793.8M482.9 793.8L486.3 783.8L486.7 793.8L493.9 783.8L490.5 793.8M493.5 793.8L496.9 783.8L497.3 793.8L504.5 783.8L501.1 793.8"/>
<path class="gt" d="M550.7 767.3L546.9 778.2M556.5 767.3L552.8 778.2M548.8 772.8L554.7 772.8M565.2 767.3L560.9 767.3Q559.3 767.3 558.7 769.0L556.2 776.5Q555.6 778.2 557.1 778.2L561.5 778.2M565.2 767.3L561.5 778.2M568.4 778.2L573.8 762.6L577.4 762.6Q579.0 762.6 578.5 764.2L577.1 768.1Q576.6 769.6 575.0 769.6L571.4 769.6M575.0 769.6L575.9 769.6Q577.3 769.6 576.7 771.2L574.9 776.5Q574.3 778.2 572.8 778.2L568.4 778.2M586.8 767.3L582.4 767.3Q580.9 767.3 580.3 769.0L577.7 776.5Q577.1 778.2 578.7 778.2L583.0 778.2M587.6 772.9L593.5 772.9L594.8 769.0Q595.4 767.3 593.9 767.3L591.1 767.3Q589.6 767.3 589.0 769.0L586.4 776.5Q585.8 778.2 587.3 778.2L591.7 778.2M594.5 778.2L598.2 767.3L598.0 778.2L605.2 767.3L601.5 778.2M613.8 767.3L616.6 767.3Q618.1 767.3 617.5 769.0L614.9 776.5Q614.3 778.2 612.8 778.2L610.0 778.2Q608.5 778.2 609.1 776.5L611.6 769.0Q612.2 767.3 613.8 767.3M617.3 769.6L619.1 764.3Q619.7 762.6 618.2 762.6L614.7 762.6M620.9 767.3L617.7 776.5Q617.1 778.2 618.7 778.2L623.0 778.2M626.8 767.3L623.0 778.2M635.5 767.3L631.1 767.3Q629.6 767.3 629.0 769.0L626.4 776.5Q625.8 778.2 627.4 778.2L631.7 778.2M635.5 767.3L631.7 778.2M634.5 778.2L638.3 767.3L642.6 767.3Q644.1 767.3 643.5 769.0L640.4 778.2M652.8 767.3L648.5 767.3Q646.9 767.3 646.3 769.0L643.8 776.5Q643.2 778.2 644.7 778.2L649.1 778.2M652.8 767.3L649.1 778.2M654.1 771.7L659.7 771.7"/>
<path class="gt" d="M549.0 783.6L553.3 783.6Q554.8 783.6 554.2 785.2L553.6 787.1Q553.1 788.4 551.9 788.4L549.0 788.4M551.9 788.4Q553.1 788.4 552.6 789.7L551.8 792.2Q551.2 793.8 549.7 793.8L545.5 793.8M559.0 783.6L561.7 783.6Q563.2 783.6 562.7 785.2L560.3 792.2Q559.7 793.8 558.2 793.8L555.5 793.8Q554.0 793.8 554.5 792.2L556.9 785.2Q557.5 783.6 559.0 783.6M566.0 783.6L562.5 793.8M571.7 783.6L568.2 793.8M564.2 788.7L570.0 788.7M572.6 788.8L578.4 788.8L579.6 785.2Q580.2 783.6 578.7 783.6L576.0 783.6Q574.4 783.6 573.9 785.2L571.5 792.2Q570.9 793.8 572.4 793.8L576.7 793.8M587.0 783.6L584.1 792.2Q583.5 793.8 585.0 793.8L589.3 793.8M592.8 783.6L589.3 793.8M595.5 783.6L599.7 783.6Q601.3 783.6 600.7 785.2L600.0 787.1Q599.6 788.4 598.4 788.4L595.5 788.4M598.4 788.4Q599.6 788.4 599.1 789.7L598.3 792.2Q597.7 793.8 596.2 793.8L592.0 793.8M600.5 793.8L604.0 783.6L603.9 793.8L610.8 783.6L607.3 793.8M611.8 788.8L617.5 788.8L618.8 785.2Q619.3 783.6 617.8 783.6L615.1 783.6Q613.6 783.6 613.0 785.2L610.6 792.2Q610.0 793.8 611.6 793.8L615.8 793.8M617.0 798.2L622.0 783.6L626.3 783.6Q627.8 783.6 627.2 785.2L624.8 792.2Q624.3 793.8 622.8 793.8L618.5 793.8M628.7 788.8L634.5 788.8L635.7 785.2Q636.3 783.6 634.8 783.6L632.0 783.6Q630.5 783.6 630.0 785.2L627.6 792.2Q627.0 793.8 628.5 793.8L632.8 793.8M639.0 783.6L635.5 793.8M644.7 783.6L641.2 793.8M637.2 788.7L643.0 788.7M647.5 783.6L644.5 792.2Q644.0 793.8 645.5 793.8L649.7 793.8M653.2 783.6L649.7 793.8M658.2 793.8L661.7 783.6L657.5 783.6Q656.0 783.6 655.4 785.2L654.7 787.2Q654.2 788.7 655.6 788.7L659.9 788.7M656.9 788.7L652.4 793.8"/>
<path class="gt" d="M685.5 753.4L690.7 738.4M692.3 753.4L697.5 738.4M688.1 745.9L694.9 745.9M700.1 742.9L702.9 742.9Q704.4 742.9 703.8 744.5L701.3 751.8Q700.7 753.4 699.2 753.4L696.5 753.4Q695.0 753.4 695.6 751.8L698.1 744.5Q698.6 742.9 700.1 742.9M701.9 757.9L707.1 742.9L711.3 742.9Q712.8 742.9 712.2 744.5L709.7 751.8Q709.2 753.4 707.7 753.4L703.5 753.4M711.9 753.4L715.5 742.9L715.3 753.4L722.3 742.9L718.7 753.4M730.8 742.9L726.5 742.9Q725.0 742.9 724.5 744.5L722.0 751.8Q721.4 753.4 722.9 753.4L727.1 753.4M730.8 742.9L727.1 753.4M729.9 753.4L733.5 742.9L740.4 742.9Q741.9 742.9 741.3 744.5L738.3 753.4M737.7 742.9L734.1 753.4M744.6 742.9L741.6 751.8Q741.0 753.4 742.5 753.4L746.7 753.4M750.3 742.9L746.7 753.4M749.5 753.4L754.6 738.4L758.2 738.4Q759.7 738.4 759.1 739.9L757.8 743.6Q757.3 745.1 755.8 745.1L752.3 745.1M755.8 745.1L756.6 745.1Q758.0 745.1 757.5 746.6L755.7 751.8Q755.2 753.4 753.7 753.4L749.5 753.4M761.5 742.9L757.9 753.4M767.2 742.9L763.6 753.4M759.7 748.1L765.4 748.1M769.9 742.9L766.3 753.4L769.2 753.4Q770.7 753.4 771.3 751.8L772.2 748.9Q772.7 747.4 771.4 747.4L768.4 747.4M777.6 742.9L773.9 753.4M780.3 742.9L777.2 751.8Q776.7 753.4 778.2 753.4L782.4 753.4M786.0 742.9L782.4 753.4M783.3 739.0L783.3 740.5L785.5 740.5"/>
<path class="gt" d="M705.0 768.6L707.7 768.6Q709.2 768.6 708.6 770.3L706.0 777.8Q705.4 779.5 704.0 779.5L701.3 779.5Q699.8 779.5 700.4 777.8L703.0 770.3Q703.6 768.6 705.0 768.6M708.4 770.9L710.2 765.6Q710.8 763.9 709.3 763.9L706.0 763.9M713.3 768.6L716.0 768.6Q717.5 768.6 716.9 770.3L714.3 777.8Q713.7 779.5 712.3 779.5L709.6 779.5Q708.1 779.5 708.7 777.8L711.3 770.3Q711.9 768.6 713.3 768.6M720.2 768.6L716.4 779.5M725.8 768.6L718.0 774.8M720.5 773.1L722.0 779.5M728.5 768.6L725.3 777.8Q724.7 779.5 726.2 779.5L730.4 779.5M734.1 768.6L729.3 782.5Q728.7 784.2 727.3 784.2L723.7 784.2M733.0 779.5L736.8 768.6L736.4 779.5L743.5 768.6L739.7 779.5M744.2 774.2L749.9 774.2L751.2 770.3Q751.8 768.6 750.3 768.6L747.6 768.6Q746.2 768.6 745.6 770.3L743.0 777.8Q742.4 779.5 743.9 779.5L748.0 779.5M754.5 768.6L750.7 779.5M760.1 768.6L756.4 779.5M752.6 774.0L758.2 774.0M759.0 779.5L762.8 768.6L769.6 768.6Q771.1 768.6 770.5 770.3L767.3 779.5M766.9 768.6L763.2 779.5"/>
<path class="gt" d="M801.5 766.6L806.6 751.9L811.9 751.9Q813.9 751.9 813.2 754.0L809.6 764.5Q808.9 766.6 806.8 766.6L801.5 766.6M813.1 766.2L810.8 769.5M820.4 766.6L823.9 756.3L824.1 766.6L831.3 756.3L827.7 766.6M830.7 766.6L834.2 756.3L834.4 766.6L841.6 756.3L838.1 766.6"/>
<path class="gt" d="M864.4 751.9L859.3 766.6L865.1 766.6M869.1 766.2L866.8 769.5M875.8 766.6L879.4 756.3L879.3 766.6L886.3 756.3L882.7 766.6M885.5 766.6L889.0 756.3L888.9 766.6L895.9 756.3L892.4 766.6"/>
<path class="gt" d="M914.3 766.6L919.4 751.9M921.6 766.6L926.7 751.9M916.8 759.2L924.2 759.2M925.9 766.2L923.5 769.5M933.1 766.6L936.6 756.3L936.7 766.6L943.9 756.3L940.4 766.6M943.3 766.6L946.9 756.3L947.0 766.6L954.2 756.3L950.7 766.6"/>
<path class="gt" d="M971.4 766.6L976.5 751.9L981.1 751.9Q983.0 751.9 982.4 753.7L981.2 757.0Q980.6 758.8 978.7 758.8L974.1 758.8M978.7 758.8L979.4 758.8Q981.3 758.8 980.7 760.7L979.3 764.7Q978.6 766.6 976.7 766.6L971.4 766.6M982.8 766.2L980.5 769.5M989.9 766.6L993.4 756.3L993.5 766.6L1000.7 756.3L997.1 766.6M1000.0 766.6L1003.6 756.3L1003.6 766.6L1010.8 756.3L1007.3 766.6"/>
<path class="gt" d="M1025.1 753.4L1030.1 738.8L1030.8 749.8L1039.0 738.8L1034.0 753.4M1046.1 743.2L1041.8 743.2Q1040.2 743.2 1039.7 744.8L1037.3 751.8Q1036.7 753.4 1038.2 753.4L1042.5 753.4M1046.1 743.2L1042.5 753.4M1054.6 743.2L1050.3 743.2Q1048.8 743.2 1048.3 744.8L1045.9 751.8Q1045.3 753.4 1046.8 753.4L1051.1 753.4M1063.2 743.2L1058.9 743.2Q1057.4 743.2 1056.8 744.8L1054.4 751.8Q1053.9 753.4 1055.4 753.4L1059.7 753.4M1071.8 743.2L1067.5 743.2Q1066.0 743.2 1065.4 744.8L1063.0 751.8Q1062.5 753.4 1064.0 753.4L1068.3 753.4M1071.8 743.2L1068.3 753.4M1072.3 753.0L1070.0 756.3"/>
<path class="gt" d="M1042.3 769.1L1038.7 779.5M1048.5 769.1L1040.2 775.0M1042.9 773.4L1044.9 779.5M1050.9 770.7Q1051.5 769.1 1053.1 769.1L1056.1 769.1Q1057.7 769.1 1057.1 770.7L1056.5 772.7L1047.9 779.5L1054.1 779.5"/>
<path class="gt" d="M121.5 809.7L129.5 809.7M125.5 809.7L120.6 823.9M127.5 823.9L132.4 809.7M134.7 823.9L139.6 809.7M130.0 816.8L137.2 816.8M141.1 813.7L146.2 809.7L141.3 823.9M151.6 809.7L153.3 809.7Q155.7 809.7 154.9 812.1L151.7 821.5Q150.9 823.9 148.4 823.9L146.7 823.9Q144.2 823.9 145.1 821.5L148.3 812.1Q149.1 809.7 151.6 809.7M155.8 817.9L161.5 817.9M173.9 809.7L169.7 809.7Q167.3 809.7 166.4 812.1L163.1 821.9Q162.4 823.9 164.4 823.9L167.0 823.9Q169.0 823.9 169.7 821.9L171.2 817.5Q171.9 815.5 169.9 815.5L165.3 815.5M179.2 809.7L181.0 809.7Q183.4 809.7 182.6 812.1L179.3 821.5Q178.5 823.9 176.1 823.9L174.3 823.9Q171.9 823.9 172.7 821.5L175.9 812.1Q176.8 809.7 179.2 809.7"/>
<path class="gt" d="M118.9 847.4L126.9 847.4M122.9 847.4L118.0 861.6M124.8 861.6L129.7 847.4M132.0 861.6L136.9 847.4M127.3 854.5L134.4 854.5M138.4 851.4L143.4 847.4L138.5 861.6M148.7 847.4L150.4 847.4Q152.8 847.4 152.0 849.8L148.8 859.2Q148.0 861.6 145.5 861.6L143.8 861.6Q141.4 861.6 142.2 859.2L145.5 849.8Q146.3 847.4 148.7 847.4M152.9 855.6L158.6 855.6M162.9 851.4L168.0 847.4L163.1 861.6M177.4 847.4L173.2 847.4Q170.8 847.4 170.0 849.8L166.6 859.6Q165.9 861.6 167.9 861.6L170.5 861.6Q172.5 861.6 173.2 859.6L174.7 855.2Q175.4 853.2 173.4 853.2L168.8 853.2M182.7 847.4L184.4 847.4Q186.8 847.4 186.0 849.8L182.7 859.2Q181.9 861.6 179.5 861.6L177.8 861.6Q175.3 861.6 176.2 859.2L179.4 849.8Q180.2 847.4 182.7 847.4"/>
<path class="gt" d="M118.1 884.7L126.0 884.7M122.1 884.7L117.2 898.9M124.0 898.9L128.9 884.7M131.0 898.9L135.9 884.7M126.4 891.8L133.5 891.8M137.9 887.1Q138.7 884.7 141.1 884.7L142.8 884.7Q145.2 884.7 144.4 887.1L143.6 889.5L133.8 898.9L140.3 898.9M154.5 884.7L148.5 884.7L146.5 890.5L150.6 890.5Q152.5 890.5 151.8 892.5L150.3 896.9Q149.6 898.9 147.7 898.9L145.1 898.9Q143.2 898.9 143.8 896.9M154.5 892.9L160.2 892.9M164.4 888.7L169.5 884.7L164.6 898.9M178.8 884.7L174.7 884.7Q172.3 884.7 171.5 887.1L168.1 896.9Q167.4 898.9 169.4 898.9L171.9 898.9Q173.9 898.9 174.6 896.9L176.1 892.5Q176.8 890.5 174.8 890.5L170.3 890.5M184.0 884.7L185.7 884.7Q188.1 884.7 187.3 887.1L184.0 896.5Q183.2 898.9 180.8 898.9L179.1 898.9Q176.7 898.9 177.6 896.5L180.8 887.1Q181.6 884.7 184.0 884.7"/>
<path class="gt" d="M237.3 828.3L239.0 828.3Q241.3 828.3 240.5 830.7L237.2 840.1Q236.4 842.5 234.1 842.5L232.4 842.5Q230.1 842.5 230.9 840.1L234.2 830.7Q235.0 828.3 237.3 828.3M241.2 836.5L246.7 836.5M250.9 832.3L255.8 828.3L251.0 842.5M260.9 828.3L262.6 828.3Q264.9 828.3 264.1 830.7L260.8 840.1Q260.0 842.5 257.7 842.5L256.0 842.5Q253.7 842.5 254.5 840.1L257.8 830.7Q258.6 828.3 260.9 828.3"/>
<path class="gt" d="M236.3 884.7L237.8 884.7Q240.0 884.7 239.2 887.1L236.0 896.5Q235.2 898.9 233.0 898.9L231.4 898.9Q229.2 898.9 230.0 896.5L233.3 887.1Q234.1 884.7 236.3 884.7M239.8 892.9L245.0 892.9M249.6 887.1Q250.4 884.7 252.6 884.7L254.2 884.7Q256.4 884.7 255.5 887.1L254.7 889.5L245.5 898.9L251.5 898.9M264.9 884.7L259.3 884.7L257.3 890.5L261.1 890.5Q262.9 890.5 262.2 892.5L260.7 896.9Q260.0 898.9 258.2 898.9L255.9 898.9Q254.1 898.9 254.7 896.9"/>
<path class="gt" d="M312.7 847.4L314.4 847.4Q316.7 847.4 315.9 849.8L312.7 859.2Q311.8 861.6 309.5 861.6L307.8 861.6Q305.5 861.6 306.3 859.2L309.6 849.8Q310.4 847.4 312.7 847.4M315.8 861.2L313.6 864.4M325.7 847.4L327.3 847.4Q329.7 847.4 328.8 849.8L325.6 859.2Q324.8 861.6 322.4 861.6L320.8 861.6Q318.4 861.6 319.3 859.2L322.5 849.8Q323.3 847.4 325.7 847.4M331.1 851.4L336.0 847.4L331.1 861.6"/>
<path class="gt" d="M389.9 809.7L386.0 809.7Q383.7 809.7 382.9 812.1L379.5 821.9Q378.8 823.9 380.7 823.9L383.1 823.9Q385.0 823.9 385.7 821.9L387.2 817.5Q387.9 815.5 386.0 815.5L381.7 815.5M394.9 809.7L396.5 809.7Q398.8 809.7 398.0 812.1L394.7 821.5Q393.9 823.9 391.6 823.9L390.0 823.9Q387.7 823.9 388.5 821.5L391.8 812.1Q392.6 809.7 394.9 809.7"/>
<path class="gt" d="M377.6 869.7L382.9 865.7L378.0 879.9M392.7 865.7L388.4 865.7Q385.8 865.7 385.0 868.1L381.6 877.9Q381.0 879.9 383.1 879.9L385.7 879.9Q387.8 879.9 388.5 877.9L390.0 873.5Q390.7 871.5 388.6 871.5L383.8 871.5M398.3 865.7L400.1 865.7Q402.6 865.7 401.8 868.1L398.5 877.5Q397.7 879.9 395.2 879.9L393.4 879.9Q390.8 879.9 391.7 877.5L394.9 868.1Q395.7 865.7 398.3 865.7"/>
<path class="gt" d="M458.8 854.2L464.3 854.2M462.7 850.8L460.4 857.6M456.6 860.5L462.2 860.5M471.9 847.4L473.5 847.4Q475.9 847.4 475.1 849.8L471.9 859.2Q471.0 861.6 468.7 861.6L467.0 861.6Q464.6 861.6 465.4 859.2L468.7 849.8Q469.5 847.4 471.9 847.4M475.1 861.2L472.9 864.4M485.0 847.4L486.7 847.4Q489.1 847.4 488.2 849.8L485.0 859.2Q484.2 861.6 481.8 861.6L480.1 861.6Q477.7 861.6 478.6 859.2L481.8 849.8Q482.6 847.4 485.0 847.4M490.5 851.4L495.5 847.4L490.6 861.6"/>
<path class="gt" d="M582.6 835.1L588.1 835.1M586.5 831.7L584.2 838.5M580.4 841.4L586.0 841.4M595.6 828.3L597.3 828.3Q599.6 828.3 598.8 830.7L595.6 840.1Q594.8 842.5 592.4 842.5L590.7 842.5Q588.4 842.5 589.2 840.1L592.4 830.7Q593.2 828.3 595.6 828.3M598.8 842.1L596.6 845.3M608.7 828.3L610.4 828.3Q612.7 828.3 611.9 830.7L608.7 840.1Q607.8 842.5 605.5 842.5L603.8 842.5Q601.4 842.5 602.3 840.1L605.5 830.7Q606.3 828.3 608.7 828.3M614.1 832.3L619.1 828.3L614.2 842.5M624.3 828.3L626.0 828.3Q627.9 828.3 627.2 830.3L626.4 832.7Q625.7 834.7 623.8 834.7L622.1 834.7Q620.1 834.7 620.8 832.7L621.6 830.3Q622.3 828.3 624.3 828.3M621.8 834.7L624.0 834.7Q626.1 834.7 625.4 836.8L624.2 840.4Q623.4 842.5 621.3 842.5L619.1 842.5Q617.0 842.5 617.8 840.4L619.0 836.8Q619.7 834.7 621.8 834.7"/>
<path class="gt" d="M582.2 891.5L587.6 891.5M586.0 888.1L583.7 894.9M580.0 897.8L585.4 897.8M595.0 884.7L596.6 884.7Q598.9 884.7 598.1 887.1L594.8 896.5Q594.0 898.9 591.7 898.9L590.1 898.9Q587.8 898.9 588.6 896.5L591.8 887.1Q592.6 884.7 595.0 884.7M598.0 898.5L595.7 901.7M607.7 884.7L609.4 884.7Q611.7 884.7 610.8 887.1L607.6 896.5Q606.8 898.9 604.5 898.9L602.8 898.9Q600.5 898.9 601.4 896.5L604.6 887.1Q605.4 884.7 607.7 884.7M614.4 884.7L620.6 884.7L615.1 890.5L616.7 890.5Q618.6 890.5 617.9 892.5L616.4 896.9Q615.7 898.9 613.8 898.9L611.4 898.9Q609.5 898.9 610.2 896.9M625.7 884.7L627.3 884.7Q629.6 884.7 628.8 887.1L625.5 896.5Q624.7 898.9 622.4 898.9L620.8 898.9Q618.5 898.9 619.3 896.5L622.5 887.1Q623.4 884.7 625.7 884.7"/>
<path class="gt" d="M683.6 861.6L688.5 847.4L694.4 847.4M699.0 847.4L701.3 847.4Q703.4 847.4 702.6 849.7L699.3 859.3Q698.5 861.6 696.5 861.6L694.1 861.6Q692.1 861.6 692.9 859.3L696.2 849.7Q697.0 847.4 699.0 847.4M712.4 847.4L707.8 847.4Q706.0 847.4 705.3 849.4L701.8 859.6Q701.1 861.6 702.9 861.6L707.5 861.6M715.0 847.4L722.2 847.4M718.6 847.4L713.7 861.6M727.2 851.4L731.9 847.4L727.1 861.6M733.1 851.4L737.9 847.4L733.0 861.6M740.4 847.4L746.3 847.4L741.0 853.2L742.5 853.2Q744.3 853.2 743.7 855.2L742.1 859.6Q741.5 861.6 739.7 861.6L737.3 861.6Q735.5 861.6 736.2 859.6M754.8 847.4L749.3 847.4L747.3 853.2L751.0 853.2Q752.8 853.2 752.1 855.2L750.6 859.6Q749.9 861.6 748.1 861.6L745.8 861.6Q744.0 861.6 744.7 859.6M759.6 847.4L761.1 847.4Q762.9 847.4 762.2 849.4L761.4 851.8Q760.7 853.8 758.9 853.8L757.4 853.8Q755.6 853.8 756.3 851.8L757.1 849.4Q757.8 847.4 759.6 847.4M757.1 853.8L759.2 853.8Q761.1 853.8 760.4 855.9L759.2 859.5Q758.4 861.6 756.5 861.6L754.4 861.6Q752.5 861.6 753.2 859.5L754.5 855.9Q755.2 853.8 757.1 853.8M763.1 855.6L768.2 855.6M775.8 847.4L777.3 847.4Q779.1 847.4 778.4 849.4L777.6 851.8Q776.9 853.8 775.1 853.8L773.6 853.8Q771.8 853.8 772.5 851.8L773.3 849.4Q774.0 847.4 775.8 847.4M773.3 853.8L775.4 853.8Q777.3 853.8 776.6 855.9L775.4 859.5Q774.6 861.6 772.7 861.6L770.6 861.6Q768.7 861.6 769.4 859.5L770.7 855.9Q771.4 853.8 773.3 853.8M777.2 861.6L780.9 861.6Q783.1 861.6 783.9 859.2L787.3 849.4Q788.0 847.4 786.2 847.4L783.9 847.4Q782.1 847.4 781.4 849.4L779.9 853.8Q779.2 855.8 781.0 855.8L785.1 855.8"/>
<path class="gt" d="M814.3 824.2L820.0 820.2L815.1 834.4M826.2 820.2L828.2 820.2Q831.0 820.2 830.2 822.6L826.9 832.0Q826.1 834.4 823.3 834.4L821.3 834.4Q818.4 834.4 819.3 832.0L822.5 822.6Q823.3 820.2 826.2 820.2"/>
<path class="gt" d="M810.1 851.4L815.6 847.4L810.8 861.6M826.2 847.4L821.6 847.4Q818.9 847.4 818.0 849.8L814.6 859.6Q814.0 861.6 816.2 861.6L819.1 861.6Q821.4 861.6 822.0 859.6L823.6 855.2Q824.2 853.2 822.0 853.2L816.8 853.2M831.9 846.7L830.4 851.2M829.3 847.8L833.0 850.1M833.8 847.8L828.5 850.1"/>
<path class="gt" d="M811.6 873.3L818.3 873.3L812.5 879.1L814.2 879.1Q816.3 879.1 815.6 881.1L814.1 885.5Q813.4 887.5 811.4 887.5L808.7 887.5Q806.7 887.5 807.4 885.5M823.7 873.3L825.4 873.3Q827.9 873.3 827.0 875.7L823.8 885.1Q823.0 887.5 820.5 887.5L818.8 887.5Q816.3 887.5 817.1 885.1L820.4 875.7Q821.2 873.3 823.7 873.3M833.1 872.6L831.5 877.1M830.6 873.7L833.9 876.0M834.7 873.7L829.8 876.0"/>
<path class="gt" d="M867.6 813.5L872.5 809.5L867.6 823.7M875.2 809.5L881.5 809.5L876.0 815.3L877.6 815.3Q879.5 815.3 878.8 817.3L877.3 821.7Q876.6 823.7 874.7 823.7L872.3 823.7Q870.3 823.7 871.0 821.7M886.5 809.5L888.2 809.5Q890.5 809.5 889.7 811.9L886.4 821.3Q885.6 823.7 883.3 823.7L881.7 823.7Q879.3 823.7 880.2 821.3L883.4 811.9Q884.2 809.5 886.5 809.5"/>
<path class="gt" d="M923.8 813.5L928.9 809.5L924.0 823.7M936.0 809.5L928.3 819.4L935.3 819.4M935.1 815.2L932.2 823.7M944.1 809.5L945.8 809.5Q948.2 809.5 947.4 811.9L944.1 821.3Q943.3 823.7 940.9 823.7L939.2 823.7Q936.7 823.7 937.6 821.3L940.8 811.9Q941.6 809.5 944.1 809.5"/>
<path class="gt" d="M992.7 809.5L988.9 809.5Q986.7 809.5 985.9 811.9L982.5 821.7Q981.8 823.7 983.6 823.7L986.0 823.7Q987.8 823.7 988.5 821.7L990.0 817.3Q990.7 815.3 988.9 815.3L984.7 815.3M997.5 809.5L999.1 809.5Q1001.3 809.5 1000.5 811.9L997.2 821.3Q996.4 823.7 994.2 823.7L992.6 823.7Q990.4 823.7 991.2 821.3L994.5 811.9Q995.3 809.5 997.5 809.5"/>
<path class="gt" d="M1034.2 813.5L1039.5 809.5L1034.6 823.7M1039.1 823.3L1036.7 826.5M1049.4 809.5L1051.3 809.5Q1053.8 809.5 1053.0 811.9L1049.8 821.3Q1049.0 823.7 1046.4 823.7L1044.5 823.7Q1042.0 823.7 1042.8 821.3L1046.0 811.9Q1046.8 809.5 1049.4 809.5M1052.0 823.7L1056.4 823.7Q1059.0 823.7 1059.8 821.3L1063.2 811.5Q1063.9 809.5 1061.8 809.5L1059.0 809.5Q1056.9 809.5 1056.2 811.5L1054.7 815.9Q1054.0 817.9 1056.1 817.9L1061.0 817.9"/>
<path class="gt" d="M867.0 849.6Q867.8 847.2 870.1 847.2L871.7 847.2Q874.0 847.2 873.2 849.6L872.4 852.0L862.9 861.4L869.2 861.4M883.0 847.2L879.1 847.2Q876.8 847.2 875.9 849.6L872.6 859.4Q871.9 861.4 873.8 861.4L876.2 861.4Q878.1 861.4 878.8 859.4L880.3 855.0Q881.0 853.0 879.1 853.0L874.8 853.0M888.1 847.2L889.7 847.2Q892.0 847.2 891.2 849.6L887.9 859.0Q887.1 861.4 884.8 861.4L883.2 861.4Q880.9 861.4 881.7 859.0L884.9 849.6Q885.7 847.2 888.1 847.2"/>
<path class="gt" d="M924.9 851.2L929.9 847.2L925.0 861.4M939.2 847.2L933.2 847.2L931.2 853.0L935.2 853.0Q937.2 853.0 936.5 855.0L935.0 859.4Q934.3 861.4 932.4 861.4L929.8 861.4Q927.9 861.4 928.5 859.4M940.7 851.2L945.7 847.2L940.8 861.4"/>
<path class="gt" d="M987.5 847.2L993.6 847.2L984.3 861.4M1002.4 847.2L996.7 847.2L994.7 853.0L998.5 853.0Q1000.4 853.0 999.7 855.0L998.2 859.4Q997.5 861.4 995.6 861.4L993.2 861.4Q991.4 861.4 992.1 859.4"/>
<path class="gt" d="M1048.2 847.2L1052.2 847.2L1047.9 853.0L1049.0 853.0Q1050.2 853.0 1049.5 855.0L1048.0 859.4Q1047.3 861.4 1046.1 861.4L1044.5 861.4Q1043.3 861.4 1044.0 859.4"/>
<path class="gt" d="M867.9 887.0Q868.7 884.6 870.9 884.6L872.5 884.6Q874.7 884.6 873.9 887.0L873.1 889.4L863.8 898.8L869.8 898.8M883.4 884.6L877.7 884.6L875.7 890.4L879.5 890.4Q881.4 890.4 880.7 892.4L879.2 896.8Q878.5 898.8 876.6 898.8L874.3 898.8Q872.4 898.8 873.1 896.8M888.2 884.6L889.8 884.6Q892.0 884.6 891.2 887.0L887.9 896.4Q887.1 898.8 884.9 898.8L883.3 898.8Q881.1 898.8 881.9 896.4L885.1 887.0Q886.0 884.6 888.2 884.6"/>
<path class="gt" d="M923.8 888.6L929.0 884.6L924.2 898.8M927.1 898.8L931.4 898.8Q934.0 898.8 934.8 896.4L938.2 886.6Q938.9 884.6 936.8 884.6L934.1 884.6Q932.0 884.6 931.3 886.6L929.8 891.0Q929.1 893.0 931.2 893.0L936.0 893.0M944.4 884.6L946.2 884.6Q948.7 884.6 947.9 887.0L944.6 896.4Q943.8 898.8 941.3 898.8L939.5 898.8Q937.0 898.8 937.8 896.4L941.0 887.0Q941.8 884.6 944.4 884.6"/>
<path class="gt" d="M989.0 884.6L990.6 884.6Q992.5 884.6 991.8 886.6L990.9 889.0Q990.3 891.0 988.4 891.0L986.8 891.0Q984.9 891.0 985.6 889.0L986.4 886.6Q987.1 884.6 989.0 884.6M986.5 891.0L988.6 891.0Q990.7 891.0 989.9 893.1L988.7 896.7Q988.0 898.8 986.0 898.8L983.8 898.8Q981.8 898.8 982.5 896.7L983.8 893.1Q984.5 891.0 986.5 891.0M997.8 884.6L999.4 884.6Q1001.7 884.6 1000.9 887.0L997.6 896.4Q996.8 898.8 994.5 898.8L992.9 898.8Q990.6 898.8 991.5 896.4L994.7 887.0Q995.5 884.6 997.8 884.6"/>
<path class="gt" d="M1051.8 884.6L1043.7 894.5L1051.3 894.5M1050.9 890.3L1048.0 898.8"/>
<path class="gt" d="M212.4 915.8L211.1 919.6M210.4 916.8L213.2 918.7M213.8 916.8L209.7 918.7M215.3 930.4L216.0 928.3L223.9 928.3L223.2 930.4M216.9 928.3L222.0 917.8Q222.7 916.4 224.1 916.4L227.1 916.4L223.0 928.3M229.3 920.0L226.9 927.0Q226.4 928.3 227.8 928.3L231.6 928.3M234.5 920.0L231.6 928.3M242.1 920.0L238.3 920.0Q237.0 920.0 236.5 921.3L234.5 927.0Q234.1 928.3 235.4 928.3L239.3 928.3M242.1 920.0L239.3 928.3M241.8 928.3L244.6 920.0L244.8 928.3L250.8 920.0L247.9 928.3M251.8 924.3L257.0 924.3L258.0 921.3Q258.5 920.0 257.1 920.0L254.6 920.0Q253.3 920.0 252.8 921.3L250.9 927.0Q250.4 928.3 251.8 928.3L255.6 928.3M258.1 928.3L260.9 920.0L267.3 920.0Q268.6 920.0 268.2 921.3L265.7 928.3M264.8 920.0L261.9 928.3M267.0 931.9L271.1 920.0L274.9 920.0Q276.3 920.0 275.8 921.3L273.9 927.0Q273.4 928.3 272.1 928.3L268.2 928.3M278.8 920.0L275.9 928.3L278.5 928.3Q279.8 928.3 280.3 927.0L281.1 924.7Q281.5 923.5 280.2 923.5L277.5 923.5M285.7 920.0L282.8 928.3M289.0 928.3L291.9 920.0L295.7 920.0Q297.1 920.0 296.6 921.3L294.2 928.3M301.9 928.3L304.7 920.0L300.9 920.0Q299.5 920.0 299.1 921.3L298.5 922.9Q298.1 924.1 299.3 924.1L303.3 924.1M300.6 924.1L296.7 928.3M304.3 928.3L307.2 920.0L313.5 920.0Q314.9 920.0 314.4 921.3L312.0 928.3M311.0 920.0L308.2 928.3M317.3 920.0L314.5 928.3M322.5 920.0L315.7 924.7M317.9 923.4L319.7 928.3M325.0 920.0L322.6 927.0Q322.1 928.3 323.5 928.3L327.3 928.3M330.2 920.0L327.3 928.3M336.4 920.0L334.0 927.0Q333.5 928.3 334.9 928.3L338.7 928.3M341.6 920.0L338.7 928.3M347.8 920.0L344.9 928.3M353.0 920.0L350.1 928.3M346.3 924.1L351.5 924.1M360.6 920.0L356.8 920.0Q355.4 920.0 355.0 921.3L353.0 927.0Q352.6 928.3 353.9 928.3L357.8 928.3M360.6 920.0L357.8 928.3M363.1 920.0L360.2 928.3M368.3 920.0L361.5 924.7M363.6 923.4L365.4 928.3M372.1 920.0L374.6 920.0Q376.0 920.0 375.5 921.3L373.5 927.0Q373.1 928.3 371.7 928.3L369.3 928.3Q367.9 928.3 368.3 927.0L370.3 921.3Q370.8 920.0 372.1 920.0M378.4 920.0L375.6 928.3M383.6 920.0L380.8 928.3M377.0 924.1L382.2 924.1M384.6 924.3L389.8 924.3L390.8 921.3Q391.3 920.0 389.9 920.0L387.5 920.0Q386.1 920.0 385.7 921.3L383.7 927.0Q383.2 928.3 384.6 928.3L388.4 928.3M393.8 920.0L392.7 923.1Q392.3 924.4 393.6 924.4L397.4 924.4M399.0 920.0L396.1 928.3M401.4 920.0L398.6 928.3M406.6 920.0L403.8 928.3M400.0 924.1L405.2 924.1M409.1 920.0L406.7 927.0Q406.2 928.3 407.6 928.3L411.4 928.3M414.3 920.0L411.4 928.3M416.8 920.0L413.9 928.3M422.0 920.0L415.1 924.7M417.3 923.4L419.1 928.3M429.6 920.0L425.8 920.0Q424.4 920.0 424.0 921.3L422.0 927.0Q421.6 928.3 422.9 928.3L426.8 928.3M429.6 920.0L426.8 928.3M433.0 928.3L435.8 920.0L439.7 920.0Q441.0 920.0 440.6 921.3L438.1 928.3M444.8 920.0L447.3 920.0Q448.7 920.0 448.2 921.3L446.3 927.0Q445.8 928.3 444.5 928.3L442.0 928.3Q440.6 928.3 441.1 927.0L443.0 921.3Q443.5 920.0 444.8 920.0M454.9 920.0L458.7 920.0Q460.1 920.0 459.6 921.3L459.1 922.8Q458.7 923.9 457.6 923.9L455.0 923.9M457.6 923.9Q458.7 923.9 458.3 925.0L457.6 927.0Q457.2 928.3 455.8 928.3L452.0 928.3M467.7 920.0L463.9 920.0Q462.5 920.0 462.1 921.3L460.1 927.0Q459.7 928.3 461.0 928.3L464.9 928.3M467.7 920.0L464.9 928.3M470.2 920.0L467.3 928.3M475.4 920.0L468.6 924.7M470.7 923.4L472.5 928.3M483.1 920.0L479.2 920.0Q477.9 920.0 477.4 921.3L475.5 927.0Q475.0 928.3 476.4 928.3L480.2 928.3M483.1 920.0L480.2 928.3M485.5 920.0L489.4 920.0Q490.7 920.0 490.3 921.3L489.7 922.8Q489.4 923.9 488.3 923.9L485.7 923.9M488.3 923.9Q489.4 923.9 489.0 925.0L488.3 927.0Q487.9 928.3 486.5 928.3L482.7 928.3M493.2 920.0L490.8 927.0Q490.3 928.3 491.7 928.3L495.5 928.3M498.4 920.0L494.8 930.6Q494.3 931.9 492.9 931.9L489.6 931.9M501.7 928.3L504.6 920.0L508.4 920.0Q509.8 920.0 509.3 921.3L506.9 928.3M513.6 920.0L516.1 920.0Q517.4 920.0 517.0 921.3L515.0 927.0Q514.6 928.3 513.2 928.3L510.7 928.3Q509.4 928.3 509.8 927.0L511.8 921.3Q512.2 920.0 513.6 920.0M517.0 928.3L519.9 920.0L526.2 920.0Q527.6 920.0 527.1 921.3L524.7 928.3M523.8 920.0L520.9 928.3M526.0 931.9L530.1 920.0L533.9 920.0Q535.3 920.0 534.8 921.3L532.8 927.0Q532.4 928.3 531.0 928.3L527.2 928.3M536.3 924.3L541.4 924.3L542.5 921.3Q542.9 920.0 541.6 920.0L539.1 920.0Q537.7 920.0 537.3 921.3L535.3 927.0Q534.9 928.3 536.2 928.3L540.1 928.3M546.3 921.2L548.8 921.2Q550.2 921.2 549.7 922.5L548.2 927.0Q547.7 928.3 546.4 928.3L543.9 928.3Q542.5 928.3 543.0 927.0L544.5 922.5Q545.0 921.2 546.3 921.2M544.4 922.9L546.2 917.7Q546.6 916.4 548.0 916.4L551.8 916.4M553.1 920.0L550.6 927.0Q550.2 928.3 551.6 928.3L555.4 928.3M558.3 920.0L555.4 928.3M557.9 928.3L560.7 920.0L567.0 920.0Q568.4 920.0 567.9 921.3L565.5 928.3M564.6 920.0L561.7 928.3M569.4 924.3L574.6 924.3L575.6 921.3Q576.1 920.0 574.7 920.0L572.2 920.0Q570.9 920.0 570.4 921.3L568.5 927.0Q568.0 928.3 569.4 928.3L573.2 928.3M575.7 928.3L580.4 920.0L583.7 920.0L580.9 928.3M588.5 928.3L591.4 920.0L587.6 920.0Q586.2 920.0 585.8 921.3L585.2 922.9Q584.8 924.1 586.0 924.1L590.0 924.1M587.2 924.1L583.3 928.3"/>
</g>
</svg>
</body></html>
